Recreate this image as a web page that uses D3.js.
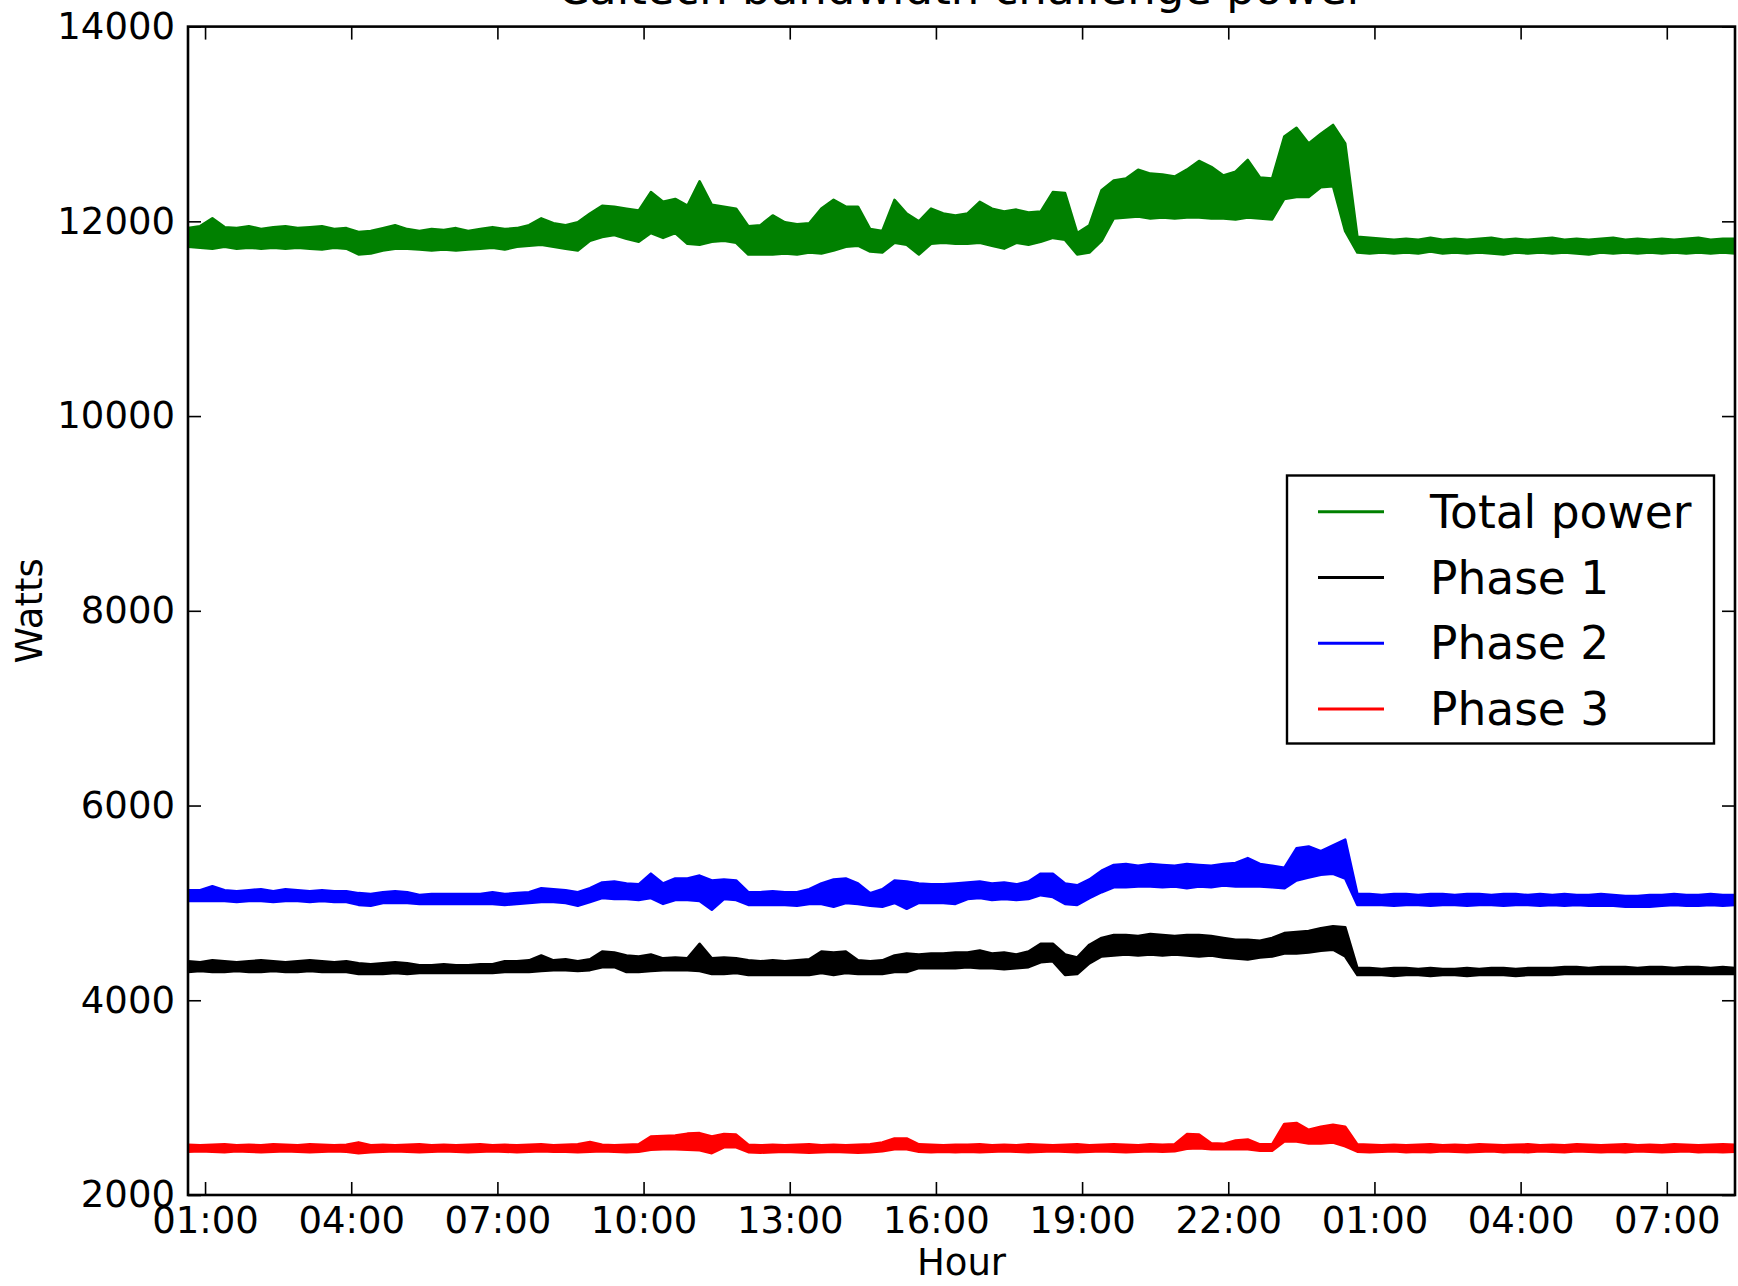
<!DOCTYPE html>
<html><head><meta charset="utf-8">
<script src="https://cdn.jsdelivr.net/npm/d3@7/dist/d3.min.js"></script>
<style>body{margin:0;background:#fff}svg{display:block}</style>
</head><body>
<svg id="chart" width="1738" height="1286"></svg>
<script>
// ---------------- data ----------------
const chartTitle = "Caltech bandwidth challenge power";
const xLabel = "Hour";
const yLabel = "Watts";
const seriesNames = ["Total power", "Phase 1", "Phase 2", "Phase 3"];
const seriesColors = ["#008000", "#000000", "#0000ff", "#ff0000"];
const startTime = "2013-11-19T00:39:00";
const stepMinutes = 15;
const yTicks = [2000, 4000, 6000, 8000, 10000, 12000, 14000];
const xTickTimes = ["2013-11-19T01:00:00","2013-11-19T04:00:00","2013-11-19T07:00:00","2013-11-19T10:00:00","2013-11-19T13:00:00","2013-11-19T16:00:00","2013-11-19T19:00:00","2013-11-19T22:00:00","2013-11-20T01:00:00","2013-11-20T04:00:00","2013-11-20T07:00:00"];
const xTickLabels = ["01:00","04:00","07:00","10:00","13:00","16:00","19:00","22:00","01:00","04:00","07:00"];

// each series: upper and lower envelope of the noisy trace, one value per sample
const totalHi = [
 11930,11950,12030,11940,11930,11950,11920,11940,11950,11930,11940,11950,11920,11930,11890,11900,
 11930,11960,11920,11900,11920,11910,11930,11900,11920,11940,11920,11930,11960,12030,11980,11960,
 11990,12080,12160,12150,12130,12110,12300,12200,12230,12160,12410,12170,12150,12130,11950,11960,
 12060,11990,11970,11980,12130,12220,12150,12150,11920,11900,12220,12080,12000,12130,12080,12060,
 12080,12200,12130,12100,12120,12090,12100,12300,12290,11880,11960,12320,12420,12440,12530,12490,
 12480,12460,12530,12620,12560,12470,12510,12630,12450,12440,12870,12960,12800,12900,12990,12800,
 11840,11830,11820,11810,11820,11810,11830,11810,11820,11810,11820,11830,11810,11820,11810,11820,
 11830,11810,11820,11810,11820,11830,11810,11820,11810,11820,11810,11820,11830,11810,11820,11820];
const totalLo = [
 11740,11730,11720,11740,11720,11730,11720,11730,11720,11730,11720,11710,11730,11720,11660,11670,
 11700,11720,11720,11710,11700,11710,11700,11710,11720,11730,11710,11740,11750,11760,11740,11720,
 11700,11800,11840,11860,11820,11790,11880,11830,11880,11770,11760,11790,11800,11780,11660,11660,
 11660,11670,11660,11680,11670,11700,11740,11750,11690,11680,11780,11760,11660,11770,11780,11770,
 11770,11780,11750,11720,11780,11760,11790,11830,11810,11660,11680,11800,12030,12040,12050,12030,
 12040,12030,12040,12040,12030,12030,12020,12040,12030,12020,12230,12250,12250,12350,12360,11900,
 11680,11670,11680,11670,11680,11670,11690,11670,11680,11670,11680,11670,11660,11680,11670,11680,
 11670,11680,11670,11660,11680,11670,11680,11670,11680,11670,11680,11670,11680,11670,11680,11670];
const phase1Hi = [
 4400,4390,4410,4400,4390,4400,4410,4400,4390,4400,4410,4400,4390,4400,4380,4370,
 4380,4390,4380,4360,4360,4370,4360,4360,4370,4370,4400,4400,4410,4460,4410,4420,
 4400,4420,4500,4490,4460,4450,4470,4430,4440,4430,4580,4430,4440,4430,4410,4400,
 4410,4400,4410,4420,4500,4490,4500,4410,4400,4410,4460,4480,4470,4480,4480,4490,
 4490,4510,4480,4490,4470,4500,4580,4580,4470,4440,4570,4640,4670,4670,4660,4680,
 4670,4660,4670,4670,4660,4640,4620,4620,4610,4640,4690,4700,4710,4740,4760,4750,
 4330,4330,4320,4330,4330,4320,4330,4320,4320,4330,4320,4330,4330,4320,4330,4330,
 4330,4340,4340,4330,4340,4340,4340,4330,4340,4340,4330,4340,4340,4330,4340,4330];
const phase1Lo = [
 4290,4300,4290,4290,4300,4290,4290,4300,4290,4290,4300,4290,4290,4290,4270,4270,
 4270,4280,4270,4280,4280,4280,4280,4280,4280,4280,4290,4290,4290,4300,4310,4310,
 4300,4310,4340,4340,4290,4290,4300,4310,4310,4310,4300,4270,4270,4280,4260,4260,
 4260,4260,4260,4260,4280,4260,4280,4270,4270,4270,4290,4290,4330,4330,4330,4330,
 4340,4330,4330,4320,4330,4340,4390,4400,4260,4270,4380,4450,4460,4470,4460,4470,
 4460,4470,4460,4450,4460,4440,4430,4420,4440,4450,4480,4480,4490,4510,4520,4450,
 4260,4260,4260,4250,4260,4260,4250,4260,4260,4250,4260,4260,4260,4250,4260,4260,
 4260,4270,4270,4270,4270,4270,4270,4270,4270,4270,4270,4270,4270,4270,4270,4270];
const phase2Hi = [
 5130,5130,5170,5130,5120,5130,5140,5120,5140,5130,5120,5130,5120,5120,5100,5090,
 5110,5120,5110,5080,5090,5090,5090,5090,5090,5110,5090,5100,5110,5150,5140,5130,
 5110,5150,5210,5220,5200,5190,5300,5200,5250,5250,5280,5230,5240,5230,5110,5110,
 5120,5110,5110,5140,5200,5240,5250,5200,5100,5140,5230,5220,5200,5190,5190,5200,
 5210,5220,5200,5210,5190,5220,5300,5300,5200,5180,5240,5330,5390,5400,5380,5400,
 5390,5380,5400,5390,5380,5400,5410,5460,5400,5380,5360,5560,5580,5530,5590,5650,
 5090,5090,5080,5090,5090,5080,5090,5090,5080,5090,5090,5080,5090,5090,5080,5090,
 5080,5090,5080,5080,5090,5080,5070,5070,5080,5080,5090,5080,5080,5090,5080,5080];
const phase2Lo = [
 5020,5020,5020,5020,5010,5020,5020,5010,5020,5020,5010,5020,5010,5010,4980,4970,
 5000,5000,5000,4990,4990,4990,4990,4990,4990,4990,4980,4990,5000,5010,5010,5000,
 4970,5010,5050,5040,5040,5030,5050,4990,5030,5030,5020,4930,5040,5030,4980,4980,
 4980,4980,4970,4990,4990,4960,5000,4990,4970,4960,5000,4940,5000,5000,5000,4990,
 5040,5050,5030,5040,5030,5040,5080,5060,4990,4980,5050,5110,5160,5160,5170,5170,
 5160,5170,5150,5170,5160,5180,5170,5170,5170,5160,5150,5230,5260,5290,5300,5250,
 4980,4980,4980,4970,4980,4980,4970,4980,4980,4970,4980,4980,4970,4980,4980,4970,
 4980,4970,4980,4970,4970,4970,4960,4960,4960,4970,4980,4970,4970,4980,4970,4980];
const phase3Hi = [
 2515,2510,2515,2520,2510,2515,2510,2520,2515,2510,2520,2515,2510,2515,2540,2510,
 2515,2510,2515,2520,2510,2515,2510,2515,2520,2510,2515,2510,2515,2520,2510,2515,
 2520,2545,2515,2510,2515,2520,2600,2605,2610,2630,2635,2600,2625,2620,2515,2510,
 2515,2510,2515,2520,2510,2515,2510,2515,2520,2540,2580,2580,2520,2515,2510,2515,
 2515,2520,2510,2515,2510,2520,2515,2510,2515,2520,2510,2515,2520,2515,2510,2520,
 2515,2520,2625,2620,2530,2525,2560,2570,2520,2520,2730,2740,2670,2700,2720,2700,
 2520,2515,2510,2515,2510,2515,2520,2510,2515,2510,2520,2515,2510,2515,2520,2510,
 2515,2510,2520,2515,2510,2515,2520,2510,2515,2510,2520,2515,2510,2515,2520,2515];
const phase3Lo = [
 2445,2450,2445,2440,2450,2445,2440,2445,2450,2445,2440,2445,2450,2445,2430,2440,
 2445,2450,2445,2440,2445,2450,2445,2440,2445,2450,2445,2440,2445,2450,2445,2445,
 2440,2445,2450,2445,2440,2445,2465,2470,2470,2465,2460,2430,2490,2490,2440,2435,
 2440,2445,2440,2435,2440,2445,2440,2435,2440,2450,2470,2470,2445,2440,2445,2440,
 2445,2440,2445,2450,2445,2440,2445,2450,2445,2440,2445,2450,2445,2440,2445,2450,
 2445,2450,2475,2480,2470,2470,2470,2470,2455,2455,2550,2550,2530,2530,2540,2500,
 2445,2440,2445,2450,2440,2445,2440,2450,2445,2440,2445,2450,2440,2445,2440,2450,
 2445,2440,2450,2445,2440,2445,2440,2450,2445,2440,2445,2450,2440,2445,2440,2445];

// ---------------- layout ----------------
const plot = {left: 188, right: 1735, top: 26.6, bottom: 1195};
const FONT = "'DejaVu Sans', sans-serif";

const svg = d3.select("#chart");
const start = new Date(startTime);
const seriesHi = [totalHi, phase1Hi, phase2Hi, phase3Hi];
const seriesLo = [totalLo, phase1Lo, phase2Lo, phase3Lo];
const times = totalHi.map((_, i) => d3.timeMinute.offset(start, i * stepMinutes));

const x = d3.scaleTime().domain([times[0], times[times.length - 1]]).range([plot.left, plot.right]);
const y = d3.scaleLinear().domain([2000, 14000]).range([plot.bottom, plot.top]);

svg.append("defs").append("clipPath").attr("id", "clip")
  .append("rect").attr("x", plot.left).attr("y", plot.top)
  .attr("width", plot.right - plot.left).attr("height", plot.bottom - plot.top);

// series
const gData = svg.append("g").attr("clip-path", "url(#clip)");
seriesNames.forEach((name, s) => {
  const rows = times.map((t, i) => ({t, hi: seriesHi[s][i], lo: seriesLo[s][i]}));
  const area = d3.area().x(d => x(d.t)).y0(d => y(d.lo)).y1(d => y(d.hi));
  gData.append("path").datum(rows).attr("d", area)
    .attr("fill", seriesColors[s]).attr("stroke", seriesColors[s])
    .attr("stroke-width", 2.6).attr("stroke-linejoin", "round");
});

// axes (ticks inside on all four sides)
const tickDates = xTickTimes.map(s => new Date(s));
const tickLen = 13;
function styleAxis(g) {
  g.select(".domain").remove();
  g.selectAll(".tick line").attr("stroke", "#000").attr("stroke-width", 1.6);
  g.selectAll("text").attr("font-family", FONT).attr("font-size", 37).attr("fill", "#000");
}
svg.append("g").attr("transform", `translate(0,${plot.bottom})`)
  .call(d3.axisBottom(x).tickValues(tickDates).tickFormat((d, i) => xTickLabels[i])
    .tickSize(-tickLen).tickPadding(12)).call(styleAxis);
svg.append("g").attr("transform", `translate(0,${plot.top})`)
  .call(d3.axisTop(x).tickValues(tickDates).tickFormat("").tickSize(-tickLen)).call(styleAxis);
svg.append("g").attr("transform", `translate(${plot.left},0)`)
  .call(d3.axisLeft(y).tickValues(yTicks).tickFormat(d3.format("d"))
    .tickSize(-tickLen).tickPadding(13)).call(styleAxis);
svg.append("g").attr("transform", `translate(${plot.right},0)`)
  .call(d3.axisRight(y).tickValues(yTicks).tickFormat("").tickSize(-tickLen)).call(styleAxis);

// frame
svg.append("rect").attr("x", plot.left).attr("y", plot.top)
  .attr("width", plot.right - plot.left).attr("height", plot.bottom - plot.top)
  .attr("fill", "none").attr("stroke", "#000").attr("stroke-width", 2.6);

// labels (title is cut off at the top edge, as in the original image)
svg.append("text").attr("x", (plot.left + plot.right) / 2).attr("y", 4)
  .attr("text-anchor", "middle").attr("font-family", FONT).attr("font-size", 45)
  .text(chartTitle);
svg.append("text").attr("x", (plot.left + plot.right) / 2).attr("y", 1275)
  .attr("text-anchor", "middle").attr("font-family", FONT).attr("font-size", 37)
  .text(xLabel);
svg.append("text").attr("transform", `translate(42,${(plot.top + plot.bottom) / 2}) rotate(-90)`)
  .attr("text-anchor", "middle").attr("font-family", FONT).attr("font-size", 37)
  .text(yLabel);

// legend
const lg = svg.append("g");
lg.append("rect").attr("x", 1287).attr("y", 475.5).attr("width", 427).attr("height", 268)
  .attr("fill", "#fff").attr("stroke", "#000").attr("stroke-width", 2.4);
seriesNames.forEach((name, s) => {
  const cy = 511.7 + s * 65.8;
  lg.append("line").attr("x1", 1318).attr("x2", 1384).attr("y1", cy).attr("y2", cy)
    .attr("stroke", seriesColors[s]).attr("stroke-width", 3);
  lg.append("text").attr("x", 1430).attr("y", cy + 16)
    .attr("font-family", FONT).attr("font-size", 45.5).text(name);
});
</script>
</body></html>
